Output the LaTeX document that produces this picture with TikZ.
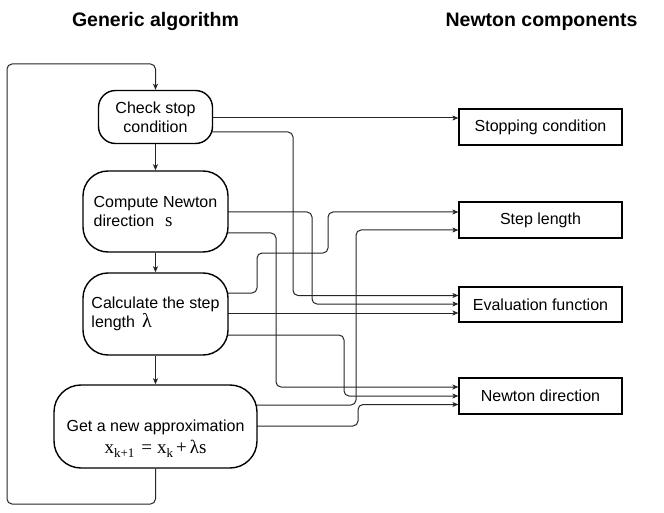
\documentclass[tikz,border=0pt]{standalone}
\usepackage{fontspec}
\setmainfont{Liberation Sans}
\newfontfamily\tms{Liberation Serif}
\usetikzlibrary{arrows.meta,backgrounds}
\begin{document}
\begin{tikzpicture}[x=1bp,y=-1bp,
  every node/.style={font=\fontsize{16bp}{19bp}\selectfont},
  algbox/.style={draw=black, line width=1.4bp, fill=white, rounded corners=25bp, inner sep=0pt, align=left},
  compbox/.style={draw=black, line width=1.2bp, fill=white, inner sep=0pt, minimum width=163bp, minimum height=36bp},
  titletext/.style={font=\fontsize{19.5bp}{22bp}\selectfont\bfseries, anchor=base, inner sep=0pt},
  conn/.style={draw=black!85, line width=1bp, rounded corners=5bp},
  arr/.style={conn, -{Stealth[length=6bp,width=5bp,inset=1.5bp]}}
]
\useasboundingbox (0,0) rectangle (664,513);

% titles
\node[titletext] (h1) at (155.5,26.5) {Generic algorithm};
\node[titletext] (h2) at (541.5,26.5) {Newton components};

% algorithm boxes
\node[algbox, rounded corners=17bp, minimum width=114bp, minimum height=53bp, align=center] (b1) at (155.5,117) {Check stop\\condition};
\node[algbox, minimum width=145bp, minimum height=81bp] (b2) at (155.5,211.5) {Compute Newton\\direction\hspace{11bp}{\tms\fontsize{19bp}{19bp}\selectfont s}};
\node[algbox, minimum width=145bp, minimum height=82bp] (b3) at (155.5,314) {Calculate the step\\length\hspace{7bp}{\tms\fontsize{20bp}{19bp}\selectfont λ}};
\node[algbox, rounded corners=27bp, minimum width=203bp, minimum height=83bp, align=center] (b4) at (155.5,426.5)
  {\rule{0pt}{36bp}Get a new approximation\\[3bp]{\tms\fontsize{19bp}{19bp}\selectfont x\raisebox{-4bp}{\fontsize{13bp}{13bp}\selectfont k+1}\hspace{7bp}=\hspace{5bp}x\raisebox{-4bp}{\fontsize{13bp}{13bp}\selectfont k}\hspace{3bp}+\hspace{3bp}λs}};

% component boxes
\node[compbox] (s1) at (540.5,127) {Stopping condition};
\node[compbox] (s2) at (540.5,220) {Step length};
\node[compbox, minimum height=35bp] (e1) at (540.5,304.5) {Evaluation function};
\node[compbox] (n1) at (540.5,396) {Newton direction};

% main flow
\draw[arr] (b1) -- (b2);
\draw[arr] (b2) -- (b3);
\draw[arr] (b3) -- (b4);
\draw[arr] (b4.south) |- (7,504) |- (b1.north |- 0,64) -- (b1.north);

\begin{scope}[on background layer]
\draw[arr] (b1.center |- 0,118) -- (s1.west |- 0,118);
\draw[arr] (b1.center |- 0,132) -| (293,295.5) -- (e1.west |- 0,295.5);
\draw[arr] (b2.center |- 0,212) -| (312,304) -- (e1.west |- 0,304);
\draw[arr] (b2.center |- 0,233) -| (276,387) -- (n1.west |- 0,387);
\draw[arr] (b3.center |- 0,293) -| (257,253) -| (328,212) -- (s2.west |- 0,212);
\draw[arr] (b3.center |- 0,313) -- (e1.west |- 0,313);
\draw[arr] (b3.center |- 0,335) -| (344,396) -- (n1.west |- 0,396);
\draw[arr] (b4.center |- 0,405) -| (356,230) -- (s2.west |- 0,230);
\draw[arr] (b4.center |- 0,426) -| (358,404.5) -- (n1.west |- 0,404.5);
\end{scope}
\end{tikzpicture}
\end{document}
